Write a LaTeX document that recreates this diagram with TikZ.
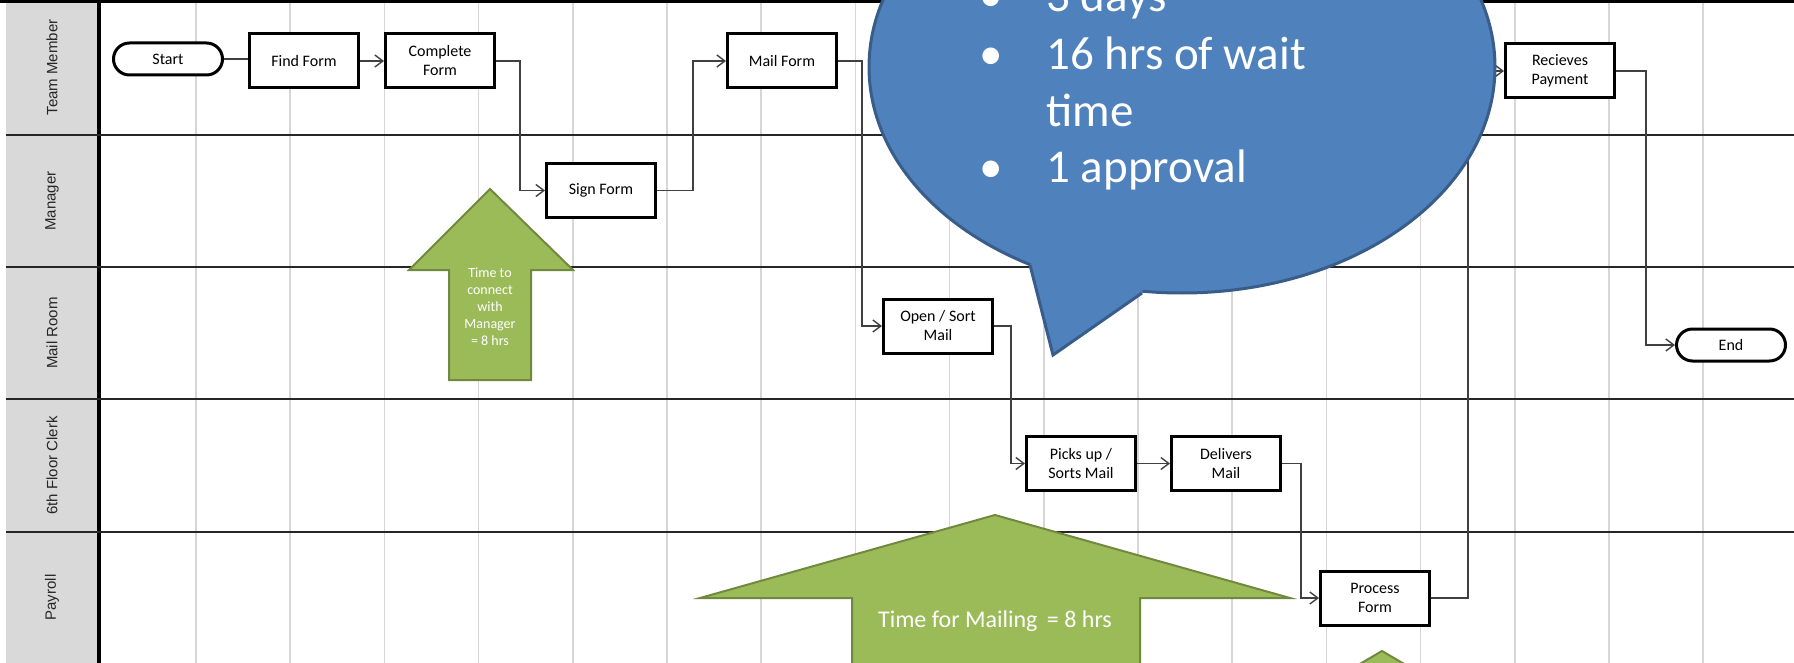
\documentclass[tikz,border=0pt]{standalone}
\usepackage{fontspec}
\setmainfont{Carlito}
\newfontfamily\lanefont{Liberation Sans}
\usetikzlibrary{arrows.meta}
\definecolor{lanegray}{HTML}{D9D9D9}
\definecolor{gridgray}{HTML}{D6D6D6}
\definecolor{flowline}{HTML}{404040}
\definecolor{notegreen}{HTML}{9BBB59}
\definecolor{notegreenline}{HTML}{71893F}
\definecolor{calloutblue}{HTML}{4F81BD}
\definecolor{calloutline}{HTML}{385D8A}

\begin{document}
\begin{tikzpicture}[x=1pt, y=-1pt,
  task/.style={draw, line width=3pt, fill=white, minimum width=109pt, minimum height=54pt,
    align=center, inner sep=2pt, font=\fontsize{16}{19}\selectfont},
  terminal/.style={draw, line width=3pt, fill=white, rounded corners=16pt,
    minimum width=109pt, minimum height=32pt, font=\fontsize{16}{19}\selectfont},
  flow/.style={draw=flowline, line width=1.6pt},
  flowto/.style={flow, -{Straight Barb[length=8pt, width=12pt, line width=1.4pt]}},
  lanelabel/.style={rotate=90, text=black!85, font=\lanefont\fontsize{15}{18}\selectfont},
  bignote/.style={fill=notegreen, draw=notegreenline, line width=2pt},
  calltext/.style={anchor=base west, text=white, font=\fontsize{47}{57}\selectfont},
  callbullet/.style={anchor=base, text=white, font=\fontsize{47}{57}\selectfont}]
  \useasboundingbox (0,0) rectangle (1794,663);
  \clip (0,0) rectangle (1794,663);

  \foreach \k in {0,...,16}
    \draw[gridgray, line width=1.5pt] (196+94.2*\k,0) -- (196+94.2*\k,663);

  \fill[lanegray] (6,0) rectangle (97,663);
  \draw[line width=3.5pt] (99,0) -- (99,663);
  \draw[line width=3pt] (0,1.5) -- (1794,1.5);
  \draw[line width=1.8pt, black!85] (6,135) -- (1794,135);
  \draw[line width=1.8pt, black!85] (6,267) -- (1794,267);
  \draw[line width=1.8pt, black!85] (6,399) -- (1794,399);
  \draw[line width=1.8pt, black!85] (6,532) -- (1794,532);

  \node[lanelabel] (lteam) at (52,67.5) {Team Member};
  \node[lanelabel] (lmanager) at (52,201) {Manager};
  \node[lanelabel] (lmailroom) at (52,333) {Mail Room};
  \node[lanelabel] (lclerk) at (52,465.5) {6th Floor Clerk};
  \node[lanelabel] (lpayroll) at (52,597.5) {Payroll};

  \node[terminal] (start) at (168,59) {Start};
  \node[task] (find) at (304,61) {Find Form};
  \node[task] (complete) at (440,61) {Complete\\Form};
  \node[task] (sign) at (601,190.5) {Sign Form};
  \node[task] (mail) at (782,61) {Mail Form};
  \node[task] (opensort) at (938,326) {Open / Sort\\Mail};
  \node[task] (pickup) at (1081,463.5) {Picks up /\\Sorts Mail};
  \node[task] (deliver) at (1226,463.5) {Delivers\\Mail};
  \node[task] (process) at (1375,598) {Process\\Form};
  \node[task] (payment) at (1560,71) {Recieves\\Payment};
  \node[terminal] (finish) at (1731,345) {End};

  \draw[flow] (start.east) -- (start.east -| find.west);
  \draw[flowto] (find) -- (complete);
  \draw[flowto] (complete.east) -- ++(24,0) |- (sign.west);
  \draw[flowto] (sign.east) -- ++(36,0) |- (mail.west);
  \draw[flowto] (mail.east) -- ++(24,0) |- (opensort.west);
  \draw[flowto] (opensort.east) -- ++(17,0) |- (pickup.west);
  \draw[flowto] (pickup) -- (deliver);
  \draw[flowto] (deliver.east) -- ++(19,0) |- (process.west);
  \draw[flowto] (process.east) -- ++(37,0) |- (payment.west);
  \draw[flowto] (payment.east) -- ++(30,0) |- (finish.west);

  \draw[bignote] (490,189) -- (573,270) -- (531,270) -- (531,380) -- (449,380)
    -- (449,270) -- (409,270) -- cycle;
  \node[text=white, align=center, font=\fontsize{14}{17}\selectfont] (connect) at (490,307)
    {Time to\\connect\\with\\Manager\\= 8 hrs};

  \draw[bignote] (995,515) -- (1290,598) -- (1140,598) -- (1140,700) -- (852,700)
    -- (852,598) -- (700,598) -- cycle;
  \node[text=white, font=\fontsize{24}{29}\selectfont] (mailing) at (995,621)
    {Time for Mailing \,= 8 hrs};

  \draw[bignote] (1382,651) -- (1452,692) -- (1420,692) -- (1420,720) -- (1344,720)
    -- (1344,692) -- (1312,692) -- cycle;

  \filldraw[fill=calloutblue, draw=calloutline, line width=3pt] (1182,67) ellipse [x radius=313, y radius=226];
  \fill[calloutblue] (1034,260) -- (1030,265) -- (1053,355) -- (1142,293) -- (1143,287) -- cycle;
  \draw[calloutline, line width=3pt] (1030,265) -- (1053,355) -- (1142,293);

  \node[callbullet] (b1) at (991,12) {\textbullet};
  \node[calltext] (days) at (1043,12) {3 days};
  \node[callbullet] (b2) at (991,70) {\textbullet};
  \node[calltext] (wait) at (1043,70) {16 hrs of wait};
  \node[calltext] (waittime) at (1043,127) {time};
  \node[callbullet] (b3) at (991,183) {\textbullet};
  \node[calltext] (approval) at (1043,183) {1 approval};
\end{tikzpicture}
\end{document}
